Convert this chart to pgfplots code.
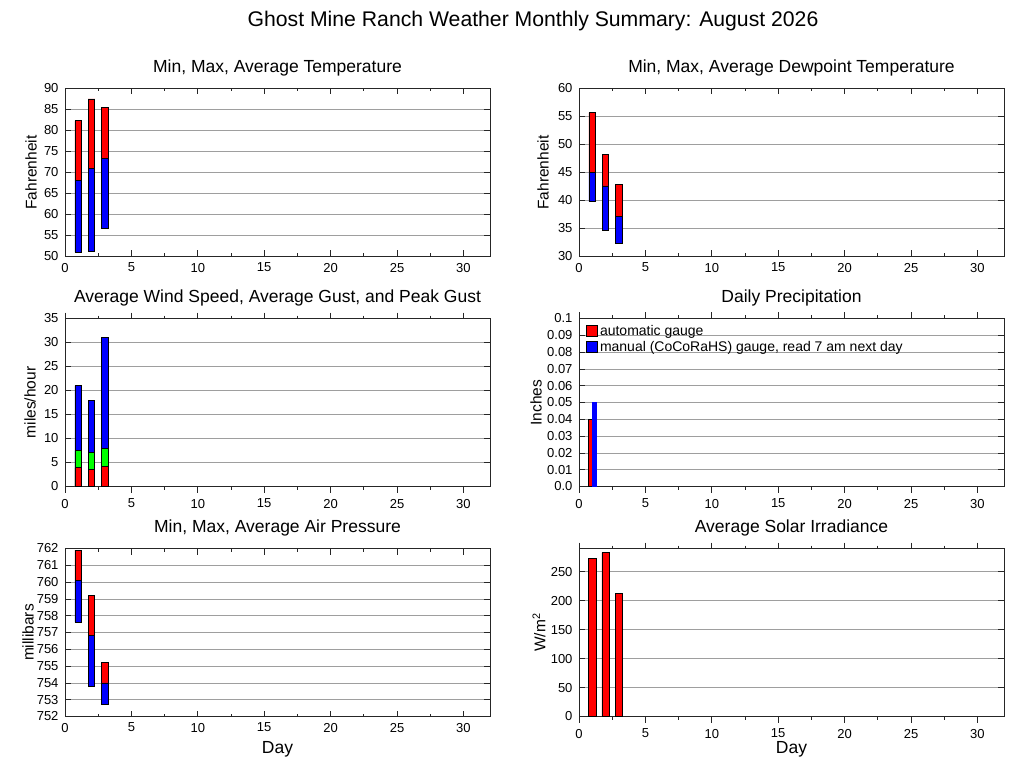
\documentclass[border=0pt]{standalone}
\usepackage{pgfplots}
\pgfplotsset{compat=1.18}
\usepackage{pgfplotstable}
\usepackage{fontspec}
\setmainfont{Liberation Sans}

\pgfplotstableread{
day min avg max
1 51.0 68.2 82.3
2 51.3 70.9 87.5
3 56.8 73.3 85.5
}\temp
\pgfplotstableread{
day min avg max
1 39.8 45.0 55.7
2 34.6 42.6 48.2
3 32.3 37.1 42.8
}\dew
\pgfplotstableread{
day speed gust peak
1 3.9 7.5 21
2 3.6 7.1 18
3 4.2 7.9 31
}\wind
\pgfplotstableread{
day auto manual
1 0.04 0.05
}\precip
\pgfplotstableread{
day min avg max
1 757.6 760.1 761.9
2 753.8 756.8 759.2
3 752.7 754.0 755.2
}\press
\pgfplotstableread{
day solar
1 273
2 283
3 212
}\solar

\pgfplotsset{
  gm/.style={
    scale only axis, width=425pt, height=168pt,
    xmin=0, xmax=32, xtick={0,5,...,30}, minor x tick num=1,
    tick align=inside, major tick length=6pt, minor tick length=3pt,
    ymajorgrids, major grid style={draw=black!38, line width=0.8pt},
    axis line style={draw=black!85, line width=0.9pt},
    tick style={draw=black!85, line width=0.8pt},
    tick label style={font=\fontsize{13}{15}\selectfont},
    yticklabel style={xshift=-3pt},
    xticklabel style={yshift=-3pt},
    /pgf/number format/assume math mode=true,
    title style={font=\fontsize{17.5}{21}\selectfont, at={(axis description cs:0.5,1)}, anchor=center, yshift=15pt},
    ylabel style={font=\fontsize{15.5}{19}\selectfont, at={(axis description cs:0,0.5)}, anchor=center},
    xlabel style={font=\fontsize{17.5}{21}\selectfont, at={(axis description cs:0.5,0)}, anchor=center, yshift=-33pt},
    anchor=south west,
  },
  barst/.style={draw=black, line width=0.8pt},
}

\begin{document}
\begin{tikzpicture}
\useasboundingbox (0,0) rectangle (1027pt,772pt);
\node[font=\fontsize{21.2}{25}\selectfont] at (533pt,751pt) {Ghost Mine Ranch Weather Monthly Summary: August 2026};

% Temperature
\begin{axis}[gm, at={(65pt,515.5pt)}, ymin=50, ymax=90, ytick={50,55,...,90},
  title={Min, Max, Average Temperature}, ylabel={Fahrenheit}, ylabel style={yshift=34pt},
  ybar stacked, bar width=0.5]
\addplot[draw=none, fill=none] table[x=day, y=min] {\temp};
\addplot[barst, fill=blue] table[x=day, y expr=\thisrow{avg}-\thisrow{min}] {\temp};
\addplot[barst, fill=red] table[x=day, y expr=\thisrow{max}-\thisrow{avg}] {\temp};
\end{axis}

% Dewpoint
\begin{axis}[gm, at={(579pt,515.5pt)}, ymin=30, ymax=60, ytick={30,35,...,60},
  title={Min, Max, Average Dewpoint Temperature}, ylabel={Fahrenheit}, ylabel style={yshift=36pt},
  ybar stacked, bar width=0.5]
\addplot[draw=none, fill=none] table[x=day, y=min] {\dew};
\addplot[barst, fill=blue] table[x=day, y expr=\thisrow{avg}-\thisrow{min}] {\dew};
\addplot[barst, fill=red] table[x=day, y expr=\thisrow{max}-\thisrow{avg}] {\dew};
\end{axis}

% Wind
\begin{axis}[gm, at={(65pt,285.5pt)}, ymin=0, ymax=35, ytick={0,5,...,35},
  title={Average Wind Speed, Average Gust, and Peak Gust}, ylabel={miles/hour}, ylabel style={yshift=35pt},
  ybar, bar width=0.5]
\addplot[barst, fill=blue, bar shift=0pt] table[x=day, y=peak] {\wind};
\addplot[barst, fill=green, bar shift=0pt] table[x=day, y=gust] {\wind};
\addplot[barst, fill=red, bar shift=0pt] table[x=day, y=speed] {\wind};
\end{axis}

% Precipitation
\begin{axis}[gm, at={(579pt,285.5pt)}, ymin=0, ymax=0.1,
  ytick={0,0.01,0.02,0.03,0.04,0.05,0.06,0.07,0.08,0.09,0.1},
  yticklabels={0.0,0.01,0.02,0.03,0.04,0.05,0.06,0.07,0.08,0.09,0.1},
  title={Daily Precipitation}, ylabel={Inches}, ylabel style={yshift=43pt},
  ybar, bar width=0.33,
  legend style={at={(axis description cs:0,1)}, anchor=north west, draw=none, fill=none,
    font=\fontsize{14}{16}\selectfont, xshift=4pt, yshift=-3pt, row sep=0pt,
    /tikz/every even column/.append style={column sep=5pt}},
  legend cell align=left,
  legend image code/.code={\draw[#1, draw=black, line width=0.8pt] (0pt,-5pt) rectangle (11pt,6pt);}]
\addplot[barst, fill=red, bar shift=-0.165] table[x=day, y=auto] {\precip};
\addlegendentry{automatic gauge}
\addplot[barst, draw=blue, fill=blue, bar shift=0.165] table[x=day, y=manual] {\precip};
\addlegendentry{manual (CoCoRaHS) gauge, read 7 am next day}
\end{axis}

% Pressure
\begin{axis}[gm, at={(65pt,55.5pt)}, ymin=752, ymax=762, ytick={752,753,...,762},
  title={Min, Max, Average Air Pressure}, ylabel={millibars}, ylabel style={yshift=37pt},
  xlabel={Day}, ybar stacked, bar width=0.5]
\addplot[draw=none, fill=none] table[x=day, y=min] {\press};
\addplot[barst, fill=blue] table[x=day, y expr=\thisrow{avg}-\thisrow{min}] {\press};
\addplot[barst, fill=red] table[x=day, y expr=\thisrow{max}-\thisrow{avg}] {\press};
\end{axis}

% Solar
\begin{axis}[gm, at={(579pt,55.5pt)}, ymin=0, ymax=290, ytick={0,50,...,250},
  title={Average Solar Irradiance}, ylabel={W/m\textsuperscript{2}}, ylabel style={yshift=40pt},
  xlabel={Day}, ybar, bar width=0.55]
\addplot[barst, fill=red, bar shift=0pt] table[x=day, y=solar] {\solar};
\end{axis}
\end{tikzpicture}
\end{document}
